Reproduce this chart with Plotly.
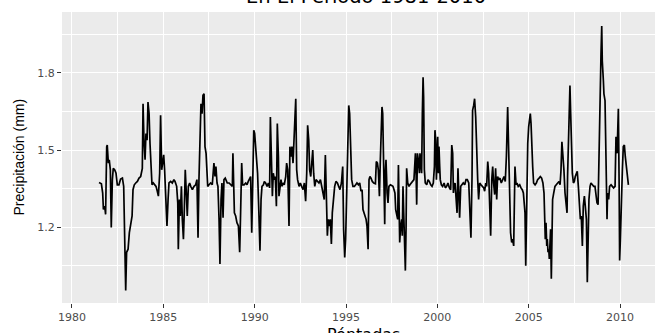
import plotly.graph_objects as go

# ---- data: pentad precipitation (decimal year, mm) ----
years_1981_1988 = [1981.48,1981.61,1981.68,1981.72,1981.79,1981.84,1981.90,1981.93,1981.99,1982.04,
    1982.10,1982.15,1982.21,1982.26,1982.34,1982.41,1982.48,1982.57,1982.66,1982.76,
    1982.83,1982.88,1982.94,1982.99,1983.07,1983.14,1983.21,1983.29,1983.34,1983.41,
    1983.49,1983.58,1983.67,1983.76,1983.85,1983.89,1983.94,1984.00,1984.05,1984.11,
    1984.16,1984.22,1984.27,1984.33,1984.38,1984.45,1984.53,1984.60,1984.67,1984.73,
    1984.80,1984.85,1984.91,1984.96,1985.02,1985.07,1985.15,1985.20,1985.26,1985.31,
    1985.40,1985.49,1985.58,1985.64,1985.73,1985.79,1985.82,1985.88,1985.93,1985.99,
    1986.04,1986.10,1986.15,1986.20,1986.26,1986.31,1986.37,1986.44,1986.50,1986.59,
    1986.68,1986.77,1986.84,1986.90,1986.95,1987.01,1987.06,1987.12,1987.17,1987.23,
    1987.28,1987.34,1987.39,1987.43,1987.50,1987.59,1987.68,1987.77,1987.83,1987.88,
    1987.94,1987.99,1988.05,1988.10,1988.16,1988.21,1988.27,1988.32,1988.39,1988.50,
    1988.60,1988.69,1988.78]
precip_1981_1988 = [1.374,1.369,1.333,1.269,1.282,1.25,1.513,1.519,1.449,1.462,
    1.423,1.199,1.385,1.429,1.423,1.41,1.365,1.365,1.387,1.391,
    1.359,1.128,0.955,1.103,1.115,1.179,1.218,1.244,1.346,1.365,
    1.372,1.378,1.391,1.397,1.429,1.679,1.538,1.462,1.564,1.538,
    1.686,1.641,1.526,1.449,1.365,1.372,1.362,1.359,1.34,1.321,
    1.41,1.635,1.423,1.462,1.481,1.423,1.282,1.205,1.308,1.372,
    1.378,1.372,1.385,1.378,1.359,1.295,1.115,1.308,1.244,1.359,
    1.231,1.154,1.269,1.423,1.333,1.244,1.359,1.372,1.359,1.346,
    1.359,1.365,1.385,1.16,1.385,1.513,1.679,1.641,1.712,1.718,
    1.513,1.487,1.436,1.359,1.365,1.372,1.365,1.449,1.397,1.436,
    1.372,1.359,1.231,1.058,1.308,1.372,1.237,1.385,1.391,1.372,
    1.372,1.365,1.359]

years_1988_1996 = [1988.81,1988.89,1988.96,1989.03,1989.11,1989.18,1989.23,1989.29,1989.34,1989.42,
    1989.51,1989.58,1989.65,1989.73,1989.78,1989.84,1989.89,1989.95,1990.00,1990.06,
    1990.11,1990.16,1990.22,1990.29,1990.35,1990.40,1990.48,1990.53,1990.60,1990.68,
    1990.75,1990.82,1990.86,1990.91,1990.97,1991.02,1991.08,1991.13,1991.19,1991.24,
    1991.30,1991.33,1991.39,1991.44,1991.50,1991.55,1991.62,1991.70,1991.75,1991.81,
    1991.88,1991.93,1991.99,1992.04,1992.10,1992.15,1992.21,1992.25,1992.30,1992.35,
    1992.43,1992.50,1992.57,1992.65,1992.72,1992.79,1992.85,1992.90,1992.96,1993.01,
    1993.07,1993.12,1993.18,1993.23,1993.29,1993.36,1993.45,1993.52,1993.60,1993.67,
    1993.74,1993.81,1993.87,1993.92,1993.98,1994.03,1994.09,1994.14,1994.20,1994.25,
    1994.31,1994.38,1994.45,1994.53,1994.60,1994.67,1994.75,1994.82,1994.87,1994.93,
    1994.98,1995.04,1995.09,1995.15,1995.20,1995.26,1995.31,1995.38,1995.46,1995.53,
    1995.60,1995.68,1995.75,1995.82,1995.88,1995.93,1995.99,1996.04,1996.10,1996.15,
    1996.21,1996.26,1996.31,1996.37,1996.44,1996.52]
precip_1988_1996 = [1.487,1.256,1.244,1.218,1.205,1.103,1.256,1.449,1.365,1.365,
    1.372,1.365,1.378,1.391,1.397,1.179,1.385,1.577,1.564,1.513,
    1.487,1.41,1.282,1.109,1.308,1.359,1.365,1.378,1.372,1.359,
    1.372,1.353,1.628,1.436,1.321,1.41,1.385,1.397,1.282,1.603,
    1.474,1.321,1.372,1.385,1.359,1.372,1.365,1.397,1.449,1.423,
    1.205,1.513,1.474,1.513,1.449,1.538,1.615,1.699,1.423,1.385,
    1.359,1.372,1.359,1.346,1.372,1.301,1.41,1.596,1.538,1.423,
    1.397,1.436,1.5,1.41,1.359,1.385,1.378,1.372,1.385,1.359,
    1.333,1.308,1.481,1.333,1.167,1.231,1.205,1.231,1.135,1.256,
    1.308,1.359,1.378,1.372,1.359,1.346,1.372,1.436,1.192,1.083,
    1.154,1.308,1.474,1.673,1.641,1.513,1.385,1.359,1.359,1.365,
    1.372,1.365,1.372,1.34,1.346,1.269,1.256,1.244,1.231,1.205,
    1.115,1.385,1.397,1.391,1.378,1.372]

years_1996_2003 = [1996.61,1996.66,1996.72,1996.77,1996.83,1996.88,1996.93,1996.97,1997.01,1997.04,
    1997.08,1997.12,1997.15,1997.19,1997.25,1997.30,1997.35,1997.43,1997.50,1997.57,
    1997.63,1997.68,1997.72,1997.77,1997.83,1997.87,1997.90,1997.94,1997.99,1998.05,
    1998.08,1998.12,1998.16,1998.21,1998.25,1998.29,1998.32,1998.38,1998.45,1998.50,
    1998.58,1998.65,1998.72,1998.80,1998.83,1998.87,1998.91,1998.96,1999.02,1999.05,
    1999.09,1999.14,1999.18,1999.22,1999.25,1999.29,1999.34,1999.42,1999.49,1999.56,
    1999.64,1999.71,1999.78,1999.84,1999.87,1999.91,1999.95,1999.98,2000.02,2000.06,
    2000.09,2000.13,2000.16,2000.22,2000.29,2000.37,2000.44,2000.51,2000.58,2000.66,
    2000.73,2000.79,2000.84,2000.88,2000.91,2000.97,2001.02,2001.08,2001.13,2001.17,
    2001.22,2001.28,2001.35,2001.42,2001.50,2001.57,2001.64,2001.72,2001.79,2001.84,
    2001.90,2001.93,2001.99,2002.04,2002.10,2002.15,2002.21,2002.26,2002.32,2002.39,
    2002.46,2002.54,2002.59,2002.65,2002.70,2002.76,2002.81,2002.87,2002.92,2002.98,
    2003.03,2003.08,2003.14,2003.19,2003.25,2003.30,2003.36,2003.43,2003.50,2003.58,
    2003.65,2003.72]
precip_1996_2003 = [1.369,1.455,1.449,1.423,1.321,1.462,1.603,1.667,1.641,1.538,
    1.41,1.212,1.41,1.462,1.333,1.295,1.359,1.365,1.362,1.359,
    1.346,1.333,1.269,1.256,1.231,1.442,1.256,1.141,1.205,1.231,
    1.167,1.359,1.256,1.128,1.032,1.205,1.429,1.372,1.359,1.365,
    1.372,1.378,1.385,1.487,1.436,1.288,1.487,1.462,1.41,1.487,
    1.436,1.41,1.641,1.782,1.705,1.423,1.372,1.365,1.385,1.378,
    1.365,1.359,1.372,1.436,1.577,1.538,1.385,1.474,1.551,1.41,
    1.513,1.436,1.385,1.365,1.359,1.372,1.353,1.359,1.372,1.353,
    1.346,1.519,1.487,1.333,1.359,1.372,1.308,1.256,1.429,1.308,
    1.237,1.359,1.365,1.372,1.365,1.385,1.385,1.372,1.244,1.16,
    1.397,1.654,1.673,1.699,1.628,1.474,1.385,1.308,1.372,1.365,
    1.359,1.353,1.34,1.372,1.359,1.455,1.41,1.308,1.167,1.385,
    1.436,1.372,1.327,1.429,1.308,1.397,1.385,1.391,1.372,1.385,
    1.397,1.378]

years_2003_2010 = [2003.78,2003.85,2003.92,2003.96,2004.01,2004.07,2004.12,2004.18,2004.22,2004.25,
    2004.31,2004.36,2004.43,2004.51,2004.58,2004.65,2004.71,2004.76,2004.80,2004.84,
    2004.87,2004.91,2004.95,2005.00,2005.05,2005.09,2005.13,2005.16,2005.22,2005.27,
    2005.35,2005.42,2005.49,2005.57,2005.64,2005.71,2005.78,2005.84,2005.88,2005.91,
    2005.95,2005.99,2006.02,2006.06,2006.10,2006.13,2006.17,2006.20,2006.24,2006.28,
    2006.31,2006.37,2006.44,2006.51,2006.59,2006.66,2006.72,2006.77,2006.82,2006.88,
    2006.93,2006.99,2007.04,2007.10,2007.13,2007.17,2007.23,2007.26,2007.30,2007.34,
    2007.39,2007.45,2007.50,2007.55,2007.61,2007.66,2007.72,2007.77,2007.83,2007.88,
    2007.94,2007.99,2008.05,2008.10,2008.16,2008.21,2008.27,2008.30,2008.36,2008.41,
    2008.49,2008.56,2008.63,2008.69,2008.74,2008.80,2008.85,2008.91,2008.96,2009.00,
    2009.03,2009.09,2009.12,2009.18,2009.22,2009.25,2009.29,2009.32,2009.38,2009.43,
    2009.51,2009.58,2009.65,2009.73,2009.78,2009.84,2009.87,2009.91,2009.95,2009.98,
    2010.02,2010.05,2010.09,2010.13,2010.18,2010.24,2010.29,2010.35,2010.40,2010.46]
precip_2003_2010 = [1.474,1.667,1.449,1.231,1.179,1.141,1.154,1.128,1.359,1.436,
    1.365,1.372,1.359,1.365,1.353,1.346,1.333,1.269,1.256,1.051,
    1.256,1.41,1.526,1.59,1.615,1.641,1.603,1.513,1.436,1.372,
    1.365,1.372,1.385,1.391,1.397,1.391,1.372,1.333,1.244,1.154,
    1.218,1.128,1.154,1.103,1.115,1.077,1.141,1.192,1.0,1.128,
    1.308,1.333,1.359,1.365,1.372,1.378,1.365,1.423,1.532,1.487,
    1.423,1.333,1.282,1.256,1.397,1.538,1.641,1.75,1.641,1.487,
    1.41,1.372,1.378,1.397,1.41,1.417,1.359,1.269,1.231,1.244,
    1.128,1.282,1.321,1.282,1.231,0.987,1.205,1.308,1.359,1.372,
    1.365,1.359,1.359,1.327,1.295,1.288,1.513,1.769,1.872,1.981,
    1.846,1.769,1.718,1.692,1.538,1.385,1.231,1.333,1.308,1.359,
    1.365,1.359,1.353,1.359,1.551,1.487,1.615,1.66,1.385,1.071,
    1.154,1.256,1.385,1.423,1.513,1.519,1.474,1.436,1.423,1.365]

x_ticks = [1980, 1985, 1990, 1995, 2000, 2005, 2010]
x_minor = [1982.5, 1987.5, 1992.5, 1997.5, 2002.5, 2007.5]
y_ticks = [1.2, 1.5, 1.8]
y_tick_labels = ["1.2", "1.5", "1.8"]
y_minor = [1.05, 1.35, 1.65, 1.95]

title_text = "En El Periodo 1981-2010"
x_title = "Péntadas"
y_title = "Precipitación (mm)"

pentada = years_1981_1988 + years_1988_1996 + years_1996_2003 + years_2003_2010
precip = precip_1981_1988 + precip_1988_1996 + precip_1996_2003 + precip_2003_2010
assert len(years_1981_1988) == len(precip_1981_1988)
assert len(years_1988_1996) == len(precip_1988_1996)
assert len(years_1996_2003) == len(precip_1996_2003)
assert len(years_2003_2010) == len(precip_2003_2010)

fig = go.Figure(go.Scatter(x=pentada, y=precip, mode="lines",
                           line=dict(color="black", width=1.7), hoverinfo="skip"))

tick_font = dict(family="DejaVu Sans", size=11, color="#4D4D4D")
fig.update_layout(
    width=655, height=333,
    margin=dict(l=62, r=0, t=12, b=30),
    paper_bgcolor="white", plot_bgcolor="#EBEBEB",
    showlegend=False,
    xaxis=dict(range=[1979.453, 2011.916], tickmode="array", tickvals=x_ticks,
               ticks="outside", ticklen=4, tickwidth=1, tickcolor="#333333",
               showgrid=True, gridcolor="white", gridwidth=1.3, automargin=False,
               zeroline=False, showline=False, tickfont=tick_font,
               minor=dict(tickvals=x_minor, showgrid=True, gridcolor="white",
                          gridwidth=0.6, ticks="")),
    yaxis=dict(range=[0.9063, 2.0355], tickmode="array", tickvals=y_ticks,
               ticktext=y_tick_labels, automargin=False,
               ticks="outside", ticklen=4, tickwidth=1, tickcolor="#333333",
               showgrid=True, gridcolor="white", gridwidth=1.3,
               zeroline=False, showline=False, tickfont=tick_font,
               minor=dict(tickvals=y_minor, showgrid=True, gridcolor="white",
                          gridwidth=0.6, ticks="")),
    annotations=[
        dict(text=title_text, xref="paper", yref="paper", x=0.5126, y=1,
             xanchor="center", yanchor="bottom", yshift=2, showarrow=False,
             font=dict(family="DejaVu Sans", size=19.5, color="black")),
        dict(text=x_title, xref="paper", yref="paper", x=0.509, y=0,
             xanchor="center", yanchor="top", yshift=-20, showarrow=False,
             font=dict(family="DejaVu Sans", size=16, color="black")),
        dict(text=y_title, xref="paper", yref="paper", x=0, y=0.5,
             xanchor="center", yanchor="middle", xshift=-44, textangle=-90,
             showarrow=False,
             font=dict(family="Liberation Sans", size=14, color="black")),
    ],
)

fig.write_html("out.html", config={"displayModeBar": False},
               post_script="document.body.style.margin='0';")
